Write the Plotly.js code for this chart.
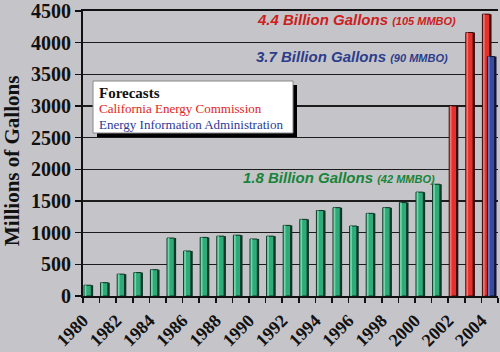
<!DOCTYPE html>
<html><head><meta charset="utf-8">
<script src="https://cdn.plot.ly/plotly-3.0.1.min.js"></script>
<style>html,body{margin:0;padding:0;background:#c5c5c9;}#chart{width:500px;height:352px;}</style>
</head><body><div id="chart"></div>
<script>
// Historical consumption (green bars)
const histYears = [1980,1981,1982,1983,1984,1985,1986,1987,1988,1989,1990,1991,1992,1993,1994,1995,1996,1997,1998,1999,2000,2001];
const histValues = [170,210,345,370,415,915,710,925,945,960,900,945,1115,1210,1350,1395,1105,1305,1395,1475,1640,1765];
// California Energy Commission forecast (red)
const cecYears = [2002,2003,2004];
const cecValues = [3000,4160,4450];
// Energy Information Administration forecast (blue)
const eiaYears = [2004];
const eiaValues = [3780];
const tickYears = [1980,1982,1984,1986,1988,1990,1992,1994,1996,1998,2000,2002,2004];

function pair(x, y, face, side, light, off) {
  return [
    {type:'bar', x:x, y:y, offset:off+0.05, width:0.5, marker:{color:side, line:{width:0}}, hoverinfo:'skip', showlegend:false},
    {type:'bar', x:x, y:y, offset:off, width:0.44, marker:{color:face, line:{color:side, width:1}}, showlegend:false},
    {type:'bar', x:x, y:y, offset:off+0.04, width:0.1, marker:{color:light, line:{width:0}}, hoverinfo:'skip', showlegend:false}
  ];
}

const data = [].concat(
  pair(histYears, histValues, '#2eab78', '#0f3526', '#74d6a8', 0.06),
  pair(cecYears, cecValues, '#e3322e', '#3a0808', '#f07470', 0.06),
  pair(eiaYears, eiaValues, '#3a4a9c', '#101535', '#6e7cc4', 0.36)
);

const L = 83, R = 498, T = 11, B = 296;
const px = v => (v - L) / (R - L);
const py = v => (B - v) / (B - T);

const layout = {
  width: 500, height: 352,
  margin: {l: L, r: 500 - R, t: T, b: 352 - B},
  paper_bgcolor: '#c5c5c9', plot_bgcolor: '#c5c5c9',
  barmode: 'overlay',
  xaxis: {
    type: 'linear', range: [1980, 2005],
    tickmode: 'array', tickvals: tickYears, ticktext: tickYears.map(String),
    tickangle: -45, ticks: 'outside', ticklen: 5, tickcolor: '#111', tickwidth: 1.5,
    minor: {tickmode: 'linear', tick0: 1980, dtick: 1, ticks: 'outside', ticklen: 5, tickcolor: '#111', tickwidth: 1.5, showgrid: false},
    showgrid: false, showline: true, linecolor: '#111', linewidth: 2, mirror: true,
    zeroline: false,
    tickfont: {family: 'Liberation Serif', size: 18, color: '#111', weight: 'bold'}
  },
  yaxis: {
    range: [0, 4500], dtick: 500, tick0: 0,
    ticks: 'outside', ticklen: 6, tickcolor: '#111', tickwidth: 1.5,
    showgrid: true, gridcolor: '#1c1c1c', gridwidth: 1.5,
    showline: true, linecolor: '#111', linewidth: 2, zeroline: false,
    tickfont: {family: 'Liberation Serif', size: 20, color: '#111', weight: 'bold'}
  },
  shapes: [
    {type: 'rect', xref: 'paper', yref: 'paper', x0: px(97), x1: px(297), y0: py(137), y1: py(85), fillcolor: '#000', line: {width: 0}},
    {type: 'rect', xref: 'paper', yref: 'paper', x0: px(93), x1: px(293), y0: py(133), y1: py(81), fillcolor: '#fff', line: {color: '#888', width: 1}}
  ],
  annotations: [
    {xref: 'paper', yref: 'paper', x: px(12), y: py(161), xanchor: 'center', yanchor: 'middle', textangle: -90, showarrow: false,
     text: 'Millions of Gallons', font: {family: 'Liberation Serif', size: 21, color: '#111', weight: 'bold'}},
    {xref: 'paper', yref: 'paper', x: px(255), y: py(20), xanchor: 'left', yanchor: 'middle', showarrow: false,
     text: '4.4 Billion Gallons <span style="font-size:11px">(105 MMBO)</span>',
     font: {family: 'Liberation Sans', size: 15, color: '#cc2020', weight: 'bold', style: 'italic'}},
    {xref: 'paper', yref: 'paper', x: px(254), y: py(57), xanchor: 'left', yanchor: 'middle', showarrow: false,
     text: '3.7 Billion Gallons <span style="font-size:11px">(90 MMBO)</span>',
     font: {family: 'Liberation Sans', size: 15, color: '#2d3d8c', weight: 'bold', style: 'italic'}},
    {xref: 'paper', yref: 'paper', x: px(241), y: py(177), xanchor: 'left', yanchor: 'middle', showarrow: false,
     text: '1.8 Billion Gallons <span style="font-size:11px">(42 MMBO)</span>',
     font: {family: 'Liberation Sans', size: 15, color: '#17843a', weight: 'bold', style: 'italic'}},
    {xref: 'paper', yref: 'paper', x: px(97), y: py(93), xanchor: 'left', yanchor: 'middle', showarrow: false,
     text: 'Forecasts', font: {family: 'Liberation Serif', size: 15, color: '#111', weight: 'bold'}},
    {xref: 'paper', yref: 'paper', x: px(97), y: py(109), xanchor: 'left', yanchor: 'middle', showarrow: false,
     text: 'California Energy Commission', font: {family: 'Liberation Serif', size: 13, color: '#e02424'}},
    {xref: 'paper', yref: 'paper', x: px(97), y: py(124), xanchor: 'left', yanchor: 'middle', showarrow: false,
     text: 'Energy Information Administration', font: {family: 'Liberation Serif', size: 13, color: '#2a3a98'}}
  ],
  showlegend: false
};

Plotly.newPlot('chart', data, layout, {staticPlot: true, displayModeBar: false});
</script>
</body></html>
